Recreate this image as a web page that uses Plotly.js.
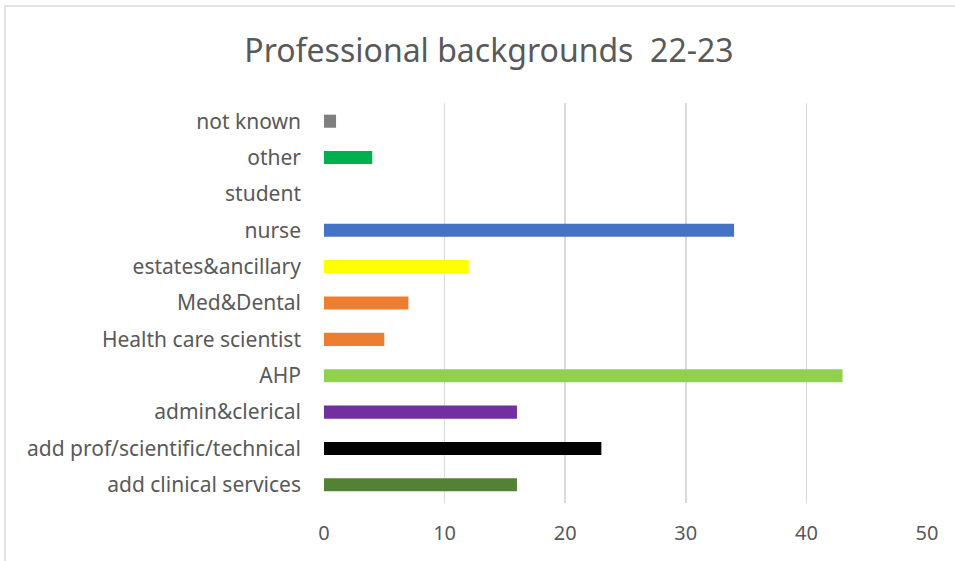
<!DOCTYPE html>
<html>
<head>
<meta charset="utf-8">
<script src="https://cdn.plot.ly/plotly-3.0.1.min.js"></script>
<style>
  html, body { margin: 0; padding: 0; background: #fff; }
  #chart { width: 955px; height: 561px; }
</style>
</head>
<body>
<div id="chart"></div>
<script>
// Staff professional backgrounds, 2022-23 (bottom to top)
const categories = [
  "add clinical services",
  "add prof/scientific/technical",
  "admin&clerical",
  "AHP",
  "Health care scientist",
  "Med&Dental",
  "estates&ancillary",
  "nurse",
  "student",
  "other",
  "not known"
];
const counts = [16, 23, 16, 43, 5, 7, 12, 34, 0, 4, 1];
const barColors = [
  "#548235", "#000000", "#7030A0", "#92D050", "#ED7D31", "#ED7D31",
  "#FFFF00", "#4472C4", "#A5A5A5", "#00B050", "#7F7F7F"
];
const xTicks = [0, 10, 20, 30, 40, 50];

const textFont = "Noto Sans, Open Sans, sans-serif";

Plotly.newPlot("chart", [{
  type: "bar",
  orientation: "h",
  y: categories,
  x: counts,
  marker: { color: barColors },
  width: 0.36,
  hoverinfo: "x+y"
}], {
  width: 955,
  height: 561,
  margin: { l: 324, r: 28, t: 103, b: 58 },
  paper_bgcolor: "#ffffff",
  plot_bgcolor: "#ffffff",
  title: {
    text: "Professional backgrounds  22-23",
    font: { family: textFont, size: 32, color: "#595959" },
    x: 0.512, xanchor: "center",
    y: 0.91, yanchor: "middle"
  },
  xaxis: {
    range: [0, 50],
    tickvals: xTicks,
    ticktext: xTicks.map(String),
    showgrid: true,
    gridcolor: "#D9D9D9",
    gridwidth: 1.5,
    zeroline: false,
    showline: false,
    ticks: "",
    ticklabelstandoff: 16,
    tickfont: { family: textFont, size: 20, color: "#595959" },
    fixedrange: true
  },
  yaxis: {
    type: "category",
    categoryorder: "array",
    categoryarray: categories,
    range: [-0.5, 10.5],
    showgrid: false,
    zeroline: false,
    showline: false,
    ticks: "",
    ticklabelstandoff: 22,
    tickfont: { family: textFont, size: 21, color: "#595959" },
    fixedrange: true
  },
  shapes: [{
    type: "rect", xref: "paper", yref: "paper",
    x0: -0.529, x1: 1.1, y0: -0.2, y1: 1.2425,
    line: { color: "#D9D9D9", width: 1.5 },
    fillcolor: "rgba(0,0,0,0)",
    layer: "below"
  }],
  showlegend: false,
  bargap: 0.64
}, { displayModeBar: false, staticPlot: true });
</script>
</body>
</html>
